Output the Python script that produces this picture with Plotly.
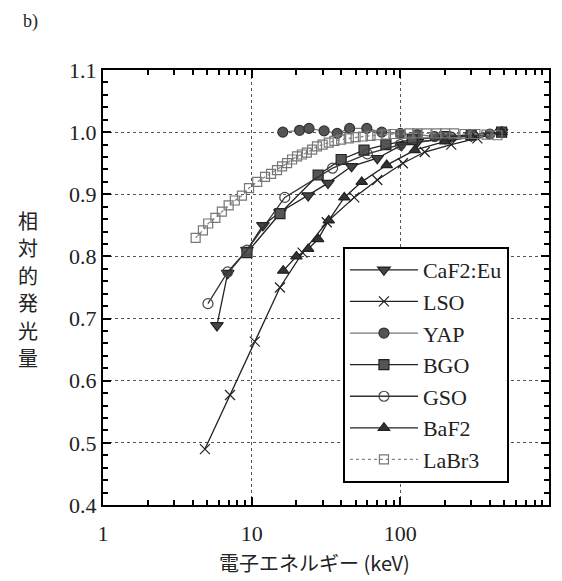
import plotly.graph_objects as go

# ---- data ----
caf2_x = [5.84, 6.9, 9.3, 11.9, 15.5, 24, 32.6, 47, 70, 102, 130, 200, 300, 480]
caf2_y = [0.689, 0.773, 0.81, 0.85, 0.871, 0.898, 0.918, 0.945, 0.958, 0.979, 0.984, 0.990, 0.994, 1.0]

lso_x = [4.85, 7.15, 10.5, 15.5, 22, 32, 49, 70, 104, 146, 220, 330, 480]
lso_y = [0.490, 0.577, 0.663, 0.750, 0.806, 0.855, 0.895, 0.923, 0.950, 0.968, 0.980, 0.990, 1.0]

yap_x = [16.2, 21, 24.3, 30.7, 37.6, 45.6, 59.5, 75, 100, 130, 170, 220, 300, 400, 480]
yap_y = [1.0, 1.003, 1.006, 1.002, 0.998, 1.006, 1.006, 1.0, 0.998, 0.996, 0.993, 0.992, 0.994, 0.997, 1.0]

bgo_x = [9.3, 15.5, 28, 40, 57, 80, 120, 200, 300, 480]
bgo_y = [0.806, 0.869, 0.931, 0.956, 0.971, 0.980, 0.988, 0.993, 0.996, 1.0]

gso_x = [5.08, 6.9, 9.3, 16.7, 35, 60, 100, 200, 300, 480]
gso_y = [0.724, 0.775, 0.81, 0.895, 0.942, 0.965, 0.980, 0.990, 0.995, 1.0]

baf2_x = [16.3, 20, 24, 28, 33, 42, 55, 81, 125, 200, 300, 480]
baf2_y = [0.777, 0.800, 0.812, 0.828, 0.858, 0.895, 0.920, 0.947, 0.971, 0.985, 0.992, 1.0]

labr3_x = [4.2, 4.7, 5.1, 5.7, 6.3, 7.0, 7.7, 8.6, 9.6, 10.9, 12.3, 13.5, 14.8, 16, 17.3,
           18.7, 20.2, 21.8, 23.5, 25.5, 27.5, 30, 33, 36, 40, 45, 50, 56, 63, 70, 80, 90,
           100, 115, 130, 150, 175, 200, 230, 270, 320, 380, 450]
labr3_y = [0.830, 0.842, 0.853, 0.862, 0.872, 0.882, 0.890, 0.898, 0.910, 0.920, 0.928, 0.933,
           0.939, 0.945, 0.950, 0.956, 0.961, 0.964, 0.967, 0.972, 0.977, 0.980, 0.983, 0.986,
           0.988, 0.990, 0.992, 0.993, 0.994, 0.995, 0.996, 0.997, 0.997, 0.998, 0.998, 0.998,
           0.998, 0.998, 0.998, 0.997, 0.997, 0.996, 0.995]

x_tickvals = [1, 10, 100, 1000]
x_ticktext = ["1", "10", "100", "1,000" + "&nbsp;" * 9]
x_minor = [m * d for d in (1, 10, 100) for m in range(2, 10)]
y_tickvals = [0.4, 0.5, 0.6, 0.7, 0.8, 0.9, 1.0, 1.1]
y_ticktext = ["0.4", "0.5", "0.6", "0.7", "0.8", "0.9", "1.0", "1.1"]
ylabel_chars = list("相対的発光量")

SERIF = "Times New Roman, Liberation Serif, DejaVu Serif, serif"
CJK = "Noto Sans CJK JP"
INK = "#222"

series = [
    ("CaF2:Eu", caf2_x, caf2_y, "triangle-down", "#444", "#222", "solid", "#222", 11),
    ("LSO", lso_x, lso_y, "x-thin-open", "#222", "#222", "solid", "#222", 10),
    ("YAP", yap_x, yap_y, "circle", "#555", "#333", "solid", "#777", 10),
    ("BGO", bgo_x, bgo_y, "square", "#555", "#222", "solid", "#222", 10),
    ("GSO", gso_x, gso_y, "circle-open", "#444", "#444", "solid", "#333", 10),
    ("BaF2", baf2_x, baf2_y, "triangle-up", "#333", "#222", "solid", "#222", 10),
    ("LaBr3", labr3_x, labr3_y, "square-open", "#777", "#777", "dot", "#888", 9),
]

fig = go.Figure()
for i, (name, xs, ys, sym, mcol, mline, dash, lcol, msize) in enumerate(series):
    fig.add_trace(go.Scatter(
        x=xs, y=ys, name=name, mode="lines+markers",
        legendgroup=f"g{i}",
        line=dict(color=lcol, width=1.3, dash=dash),
        marker=dict(symbol=sym, size=msize, color=mcol,
                    line=dict(color=mline, width=1.2)),
    ))

axis_common = dict(
    showline=True, linecolor="black", linewidth=2, mirror="allticks",
    ticks="inside", ticklen=8, tickwidth=2, tickcolor="black",
    showgrid=True, gridcolor="#555", griddash="dot", gridwidth=1,
    zeroline=False,
)

fig.update_xaxes(
    type="log", range=[0, 3],
    tickmode="array", tickvals=x_tickvals, ticktext=x_ticktext,
    ticklabelstandoff=8,
    tickfont=dict(family=SERIF, size=22, color=INK),
    minor=dict(tickmode="array", tickvals=x_minor, ticks="inside", ticklen=5,
               tickwidth=1.5, tickcolor="black", showgrid=False),
    **axis_common,
)
fig.update_yaxes(
    range=[0.4, 1.1],
    tickmode="array", tickvals=y_tickvals, ticktext=y_ticktext,
    tickfont=dict(family=SERIF, size=22, color=INK),
    minor=dict(dtick=0.02, ticks="inside", ticklen=5, tickwidth=1.5,
               tickcolor="black", showgrid=False),
    **axis_common,
)

# plot area in figure px: left 95, right 541, top 62, bottom 497 (w 446, h 435)
annotations = [
    dict(text="b)", xref="paper", yref="paper", x=-0.183, y=(497 - 13) / 435,
         xanchor="left", yanchor="middle", showarrow=False,
         font=dict(family=SERIF, size=18, color=INK)),
    dict(text="電子エネルギー (keV)", xref="paper", yref="paper",
         x=0.475, y=-0.133, xanchor="center", yanchor="middle", showarrow=False,
         font=dict(family=CJK, size=20, color=INK)),
]
for k, ch in enumerate(ylabel_chars):
    py = 212 + k * 27.5
    annotations.append(dict(
        text=ch, xref="paper", yref="paper", x=(20 - 95) / 446, y=(497 - py) / 435,
        xanchor="center", yanchor="middle", showarrow=False,
        font=dict(family=CJK, size=20, color=INK)))

fig.update_layout(
    width=554, height=573,
    margin=dict(l=95, r=13, t=62, b=76),
    plot_bgcolor="white", paper_bgcolor="white",
    font=dict(family=SERIF, size=22, color=INK),
    showlegend=True,
    legend=dict(
        x=0.538, y=0.593, xanchor="left", yanchor="top",
        bgcolor="white", bordercolor="black", borderwidth=2,
        font=dict(family=SERIF, size=22, color=INK),
        tracegroupgap=0, itemwidth=68,
    ),
    annotations=annotations,
)

fig.write_html("out.html")
